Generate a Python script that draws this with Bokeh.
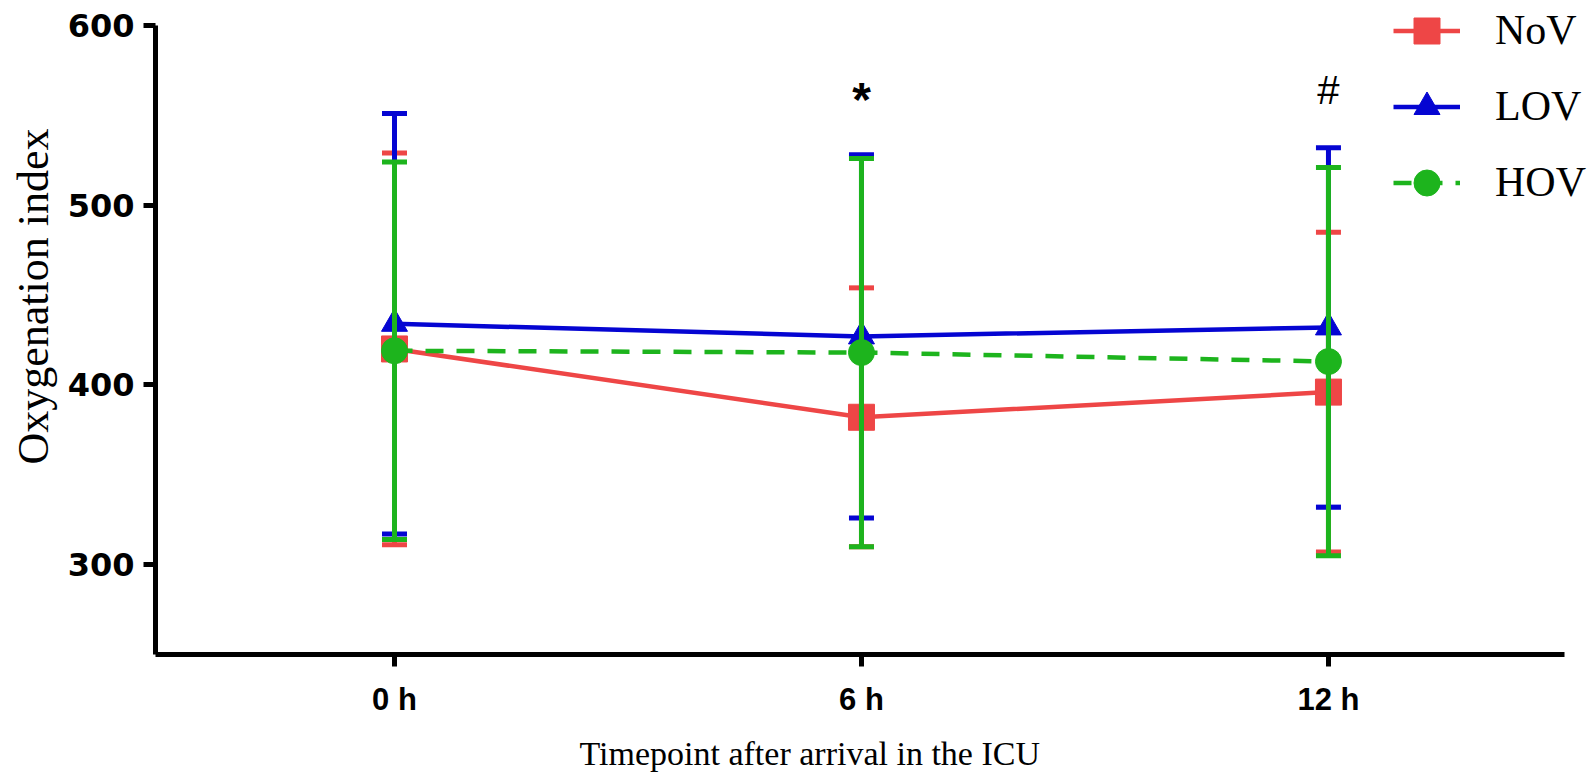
import math
from bokeh.plotting import figure
from bokeh.models import Range1d, FixedTicker, Legend, LegendItem, Title
from bokeh.core.properties import value
from bokeh.embed import file_html
from bokeh.resources import INLINE

# ---------------- data ----------------
timepoints = [0, 6, 12]
tick_labels = ["0 h", "6 h", "12 h"]
groups = ["NoV", "LOV", "HOV"]
nov_mean = [420, 382, 396]
nov_sd = [109, 72, 89]
lov_mean = [434, 427, 432]
lov_sd = [117, 101, 100]
hov_mean = [419, 418, 413]
hov_sd = [105, 108, 108]
sig_x = [6, 12]
sig_y = [559, 564]
sig_marks = ["*", "#"]
y_ticks = [300, 400, 500, 600]
x_title = "Timepoint after arrival in the ICU"
y_title = "Oxygenation index"

# ---------------- layout ----------------
W, H = 1592, 784
LEFT = 155
FRAME_H = 655
Y_TOP_PX = 25                      # pixel row of the 600 tick
PX_PER_UNIT_Y = (FRAME_H - Y_TOP_PX) / 350.0
PX_PER_H = 77.83
X0 = (LEFT - 394) / PX_PER_H
Y0 = 250
x_end = X0 + (W - LEFT) / PX_PER_H
y_end = 600 + Y_TOP_PX / PX_PER_UNIT_Y

p = figure(width=W, height=H, output_backend="svg", toolbar_location=None,
           x_range=Range1d(X0, x_end), y_range=Range1d(Y0, y_end),
           min_border_left=LEFT, min_border_right=0, min_border_top=0,
           min_border_bottom=H - FRAME_H)
p.outline_line_color = None
p.xgrid.grid_line_color = None
p.ygrid.grid_line_color = None
p.background_fill_color = "white"
p.border_fill_color = "white"

# axes
for ax in (p.xaxis[0], p.yaxis[0]):
    ax.axis_line_width = 5
    ax.axis_line_color = "black"
    ax.major_tick_line_width = 5
    ax.major_tick_out = 12
    ax.major_tick_in = 0
    ax.minor_tick_line_color = None
    ax.major_label_text_color = "black"
    ax.major_label_text_font_style = "bold"

p.yaxis.ticker = FixedTicker(ticks=y_ticks)
p.yaxis.bounds = (Y0, max(y_ticks))
p.yaxis.major_label_text_font = "DejaVu Sans"
p.yaxis.major_label_text_font_size = "32px"
p.yaxis.major_label_standoff = 9

p.xaxis.ticker = FixedTicker(ticks=timepoints)
p.xaxis.major_label_overrides = {t: lab for t, lab in zip(timepoints, tick_labels)}
p.xaxis.bounds = (X0, 15.03)
p.xaxis.major_label_text_font = "Liberation Sans"
p.xaxis.major_label_text_font_size = "31px"
p.xaxis.major_label_standoff = 15

# axis titles
p.add_layout(Title(text=x_title, align="left", offset=424, standoff=26,
                   text_font="Liberation Serif", text_font_size="34px",
                   text_font_style="normal", text_color="black"), "below")
p.add_layout(Title(text=y_title, align="left", offset=190, standoff=13,
                   text_font="Liberation Serif", text_font_size="44px",
                   text_font_style="normal", text_color="black"), "left")

# ---------------- series ----------------
series = [
    (nov_mean, nov_sd, "#EE4646", "square", "solid"),
    (lov_mean, lov_sd, "#0505D2", "triangle", "solid"),
    (hov_mean, hov_sd, "#1DB41D", "circle", "18 13"),
]
items = []
for name, (mean, sd, color, marker, dash) in zip(groups, series):
    lower = [m - s for m, s in zip(mean, sd)]
    upper = [m + s for m, s in zip(mean, sd)]
    p.segment(timepoints, lower, timepoints, upper, line_color=color, line_width=5)
    p.scatter(timepoints, lower, marker="dash", size=25, line_color=color, line_width=5)
    p.scatter(timepoints, upper, marker="dash", size=25, line_color=color, line_width=5)
    ln = p.line(timepoints, mean, line_color=color, line_width=4.5, line_dash=dash)
    mk = p.scatter(timepoints, mean, marker=marker, size=26, fill_color=color, line_color=color)
    items.append(LegendItem(label=name, renderers=[ln, mk]))

# significance marks
p.text(sig_x[:1], sig_y[:1], text=sig_marks[:1], text_align="center", text_baseline="alphabetic",
       text_font=value("Liberation Sans"), text_font_size="48px", text_font_style="bold", text_color="black")
p.text(sig_x[1:], sig_y[1:], text=sig_marks[1:], text_align="center", text_baseline="alphabetic",
       text_font=value("Liberation Sans"), text_font_size="40px", text_color="black")

GLYPH_H = 65
SPACING = 11
legend_h = 3 * GLYPH_H + 2 * SPACING
legend_top = 31 - GLYPH_H / 2
legend = Legend(items=items, location=(1393 - LEFT, FRAME_H - legend_top - legend_h),
                orientation="vertical",
                glyph_width=67, glyph_height=GLYPH_H, label_height=30, label_standoff=35,
                spacing=SPACING, padding=0, margin=0, border_line_alpha=0, background_fill_alpha=0,
                label_text_font="Liberation Serif", label_text_font_size="42px",
                label_text_color="black")
p.add_layout(legend)

open("out.html", "w").write(file_html(p, INLINE))
